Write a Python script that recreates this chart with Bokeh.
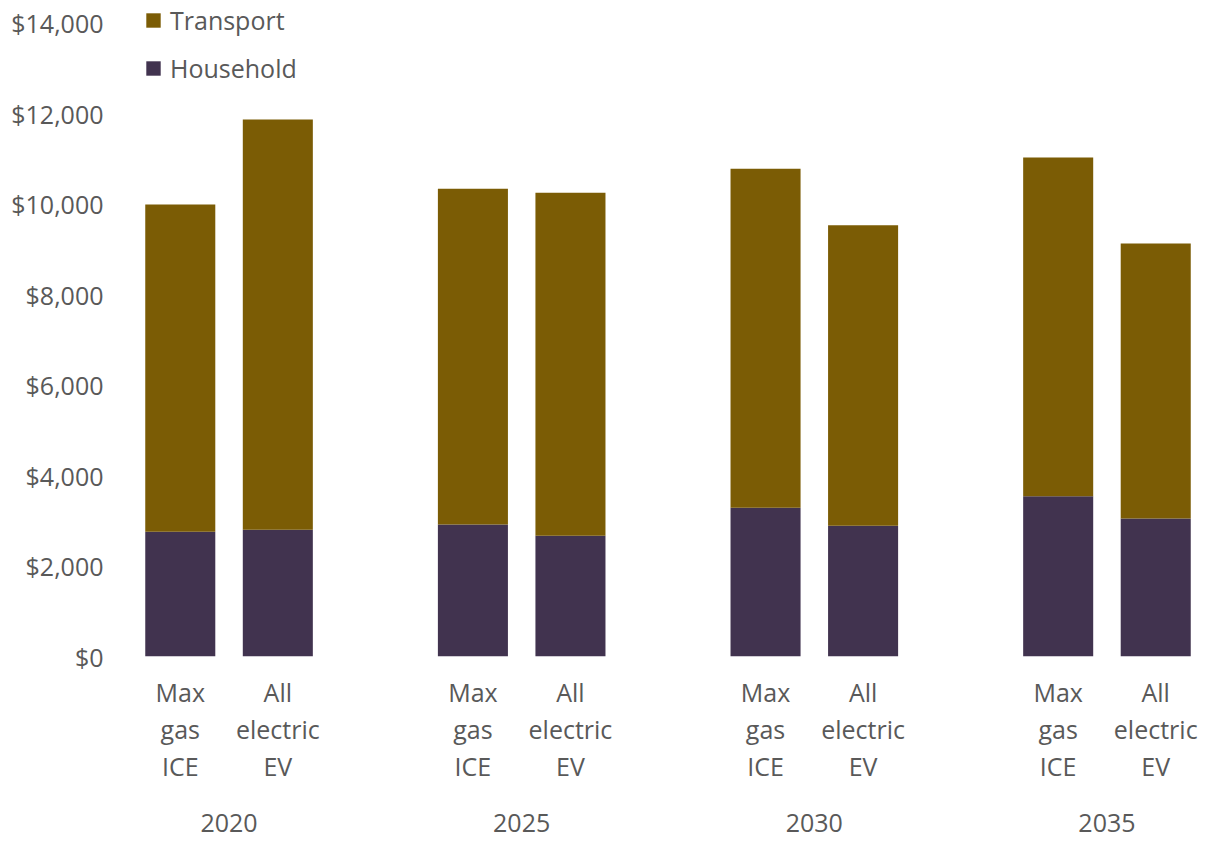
from bokeh.plotting import figure
from bokeh.models import (ColumnDataSource, Range1d, LinearAxis, FixedTicker,
                          NumeralTickFormatter, Legend, LegendItem)
from bokeh.embed import file_html
from bokeh.resources import INLINE

# ---- data ----
years = ["2020", "2025", "2030", "2035"]
scenarios = ["Max\ngas\nICE", "All\nelectric\nEV"]
household = [2760, 2800, 2920, 2670, 3290, 2890, 3540, 3050]
transport = [7230, 9070, 7420, 7580, 7490, 6640, 7490, 6080]

TRANSPORT_COLOR = "#7B5C05"
HOUSEHOLD_COLOR = "#41334F"
TEXT_COLOR = "#595959"
FONT = "Open Sans"
FS = "25px"

# positions: each year group occupies 3 slots (2 bars + 1 gap)
xs, labels = [], {}
for g, _y in enumerate(years):
    for j, s in enumerate(scenarios):
        x = g * 3 + j + 0.5
        xs.append(x)
        labels[x] = s
year_pos = [g * 3 + 1.0 for g in range(len(years))]

src = ColumnDataSource(dict(x=xs, household=household, transport=transport))

p = figure(width=1214, height=841, output_backend="svg", toolbar_location=None,
           x_range=Range1d(0, 11), y_range=Range1d(0, 14500),
           x_axis_type=None, y_axis_type=None,
           min_border_left=131, min_border_right=10, min_border_top=0,
           min_border_bottom=185)
p.outline_line_color = None
p.xgrid.visible = False
p.ygrid.visible = False

rs = p.vbar_stack(["household", "transport"], x="x", width=0.718, source=src,
                  color=[HOUSEHOLD_COLOR, TRANSPORT_COLOR], line_color=None)

# y axis
ya = LinearAxis(ticker=FixedTicker(ticks=list(range(0, 14001, 2000))),
                formatter=NumeralTickFormatter(format="$0,0"))
ya.axis_line_color = None
ya.major_tick_line_color = None
ya.minor_tick_line_color = None
ya.major_label_text_font = FONT
ya.major_label_text_font_size = FS
ya.major_label_text_color = TEXT_COLOR
ya.major_label_standoff = 22
p.add_layout(ya, "left")

# bar labels axis
xa = LinearAxis(ticker=FixedTicker(ticks=xs),
                major_label_overrides={float(k): v for k, v in labels.items()})
xa.axis_line_color = None
xa.major_tick_line_color = None
xa.minor_tick_line_color = None
xa.major_label_text_font = FONT
xa.major_label_text_font_size = FS
xa.major_label_text_color = TEXT_COLOR
xa.major_label_text_line_height = 1.09
xa.major_label_standoff = 12
p.add_layout(xa, "below")

# year axis
ya2 = LinearAxis(ticker=FixedTicker(ticks=year_pos),
                 major_label_overrides={float(v): y for v, y in zip(year_pos, years)})
ya2.axis_line_color = None
ya2.major_tick_line_color = None
ya2.minor_tick_line_color = None
ya2.major_label_text_font = FONT
ya2.major_label_text_font_size = FS
ya2.major_label_text_color = TEXT_COLOR
ya2.major_label_standoff = 22
p.add_layout(ya2, "below")

legend = Legend(items=[LegendItem(label="Transport", renderers=[rs[1]]),
                       LegendItem(label="Household", renderers=[rs[0]])],
                location=(13, 571))
legend.border_line_color = None
legend.background_fill_alpha = 0
legend.margin = 0
legend.padding = 0
legend.glyph_width = 18
legend.glyph_height = 18
legend.label_height = 28
legend.spacing = 14
legend.label_standoff = 8
legend.label_text_font = FONT
legend.label_text_font_size = FS
legend.label_text_color = TEXT_COLOR
p.add_layout(legend)

open("out.html", "w").write(file_html(p, INLINE))
